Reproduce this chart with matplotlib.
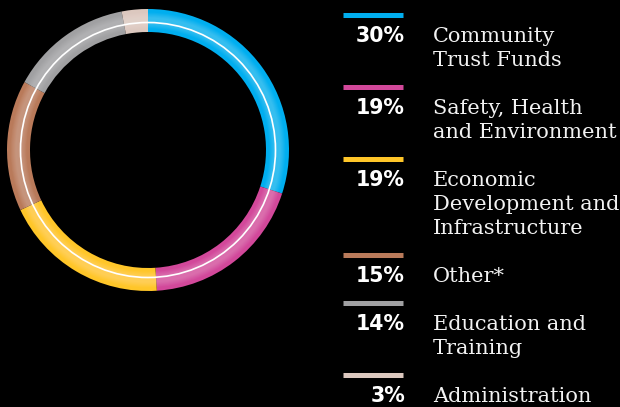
import matplotlib
matplotlib.use("Agg")
import matplotlib.pyplot as plt
import numpy as np
from matplotlib.patches import Wedge, Circle

categories = ["Community\nTrust Funds", "Safety, Health\nand Environment",
              "Economic\nDevelopment and\nInfrastructure", "Other*",
              "Education and\nTraining", "Administration"]
values = [30, 19, 19, 15, 14, 3]
pct_labels = ["30%", "19%", "19%", "15%", "14%", "3%"]
colors = ["#00AEEF", "#D2489A", "#FFC629", "#B97A5A", "#A0A0A2", "#DCC8BF"]

W, H = 620, 407
fig = plt.figure(figsize=(W / 100, H / 100), dpi=100, facecolor="black")
ax = fig.add_axes([0, 0, 1, 1])
ax.set_facecolor("black")

cx, cy = 148, H - 150
R, width = 141, 23

ax.pie(values, colors=colors, startangle=90, counterclock=False,
       center=(cx, cy), radius=R,
       wedgeprops=dict(width=width, linewidth=0))

# soft highlight toward the middle of the ring
n = 8
for i in range(n):
    t = i / (n - 1)
    r_out = R - width * 0.15 - t * width * 0.22
    w = width * 0.7 - 2 * t * width * 0.22
    if w <= 0:
        break
    ax.add_patch(Wedge((cx, cy), r_out, 0, 360, width=w,
                       facecolor="white", alpha=0.03, linewidth=0))
ax.add_patch(Circle((cx, cy), R - 13.5, fill=False, edgecolor="white", linewidth=1.2))

ax.set_xlim(0, W)
ax.set_ylim(0, H)
ax.set_aspect("equal")
ax.axis("off")

# legend
y = 15
for lab, pct, col in zip(categories, pct_labels, colors):
    ax.plot([343, 403], [H - y, H - y], color=col, linewidth=3.6, solid_capstyle="butt")
    base = y + 27
    ax.text(405, H - base, pct, color="white", fontsize=14.8, fontweight="bold",
            family=["DejaVu Sans"], ha="right", va="baseline")
    lines = lab.split("\n")
    for k, ln in enumerate(lines):
        ax.text(433, H - (base + 24 * k), ln, color="#F2F2F2", fontsize=15,
                family=["DejaVu Serif"], ha="left", va="baseline")
    y += 24 * (len(lines) + 1)

fig.savefig("out.png", dpi=100, facecolor="black")
